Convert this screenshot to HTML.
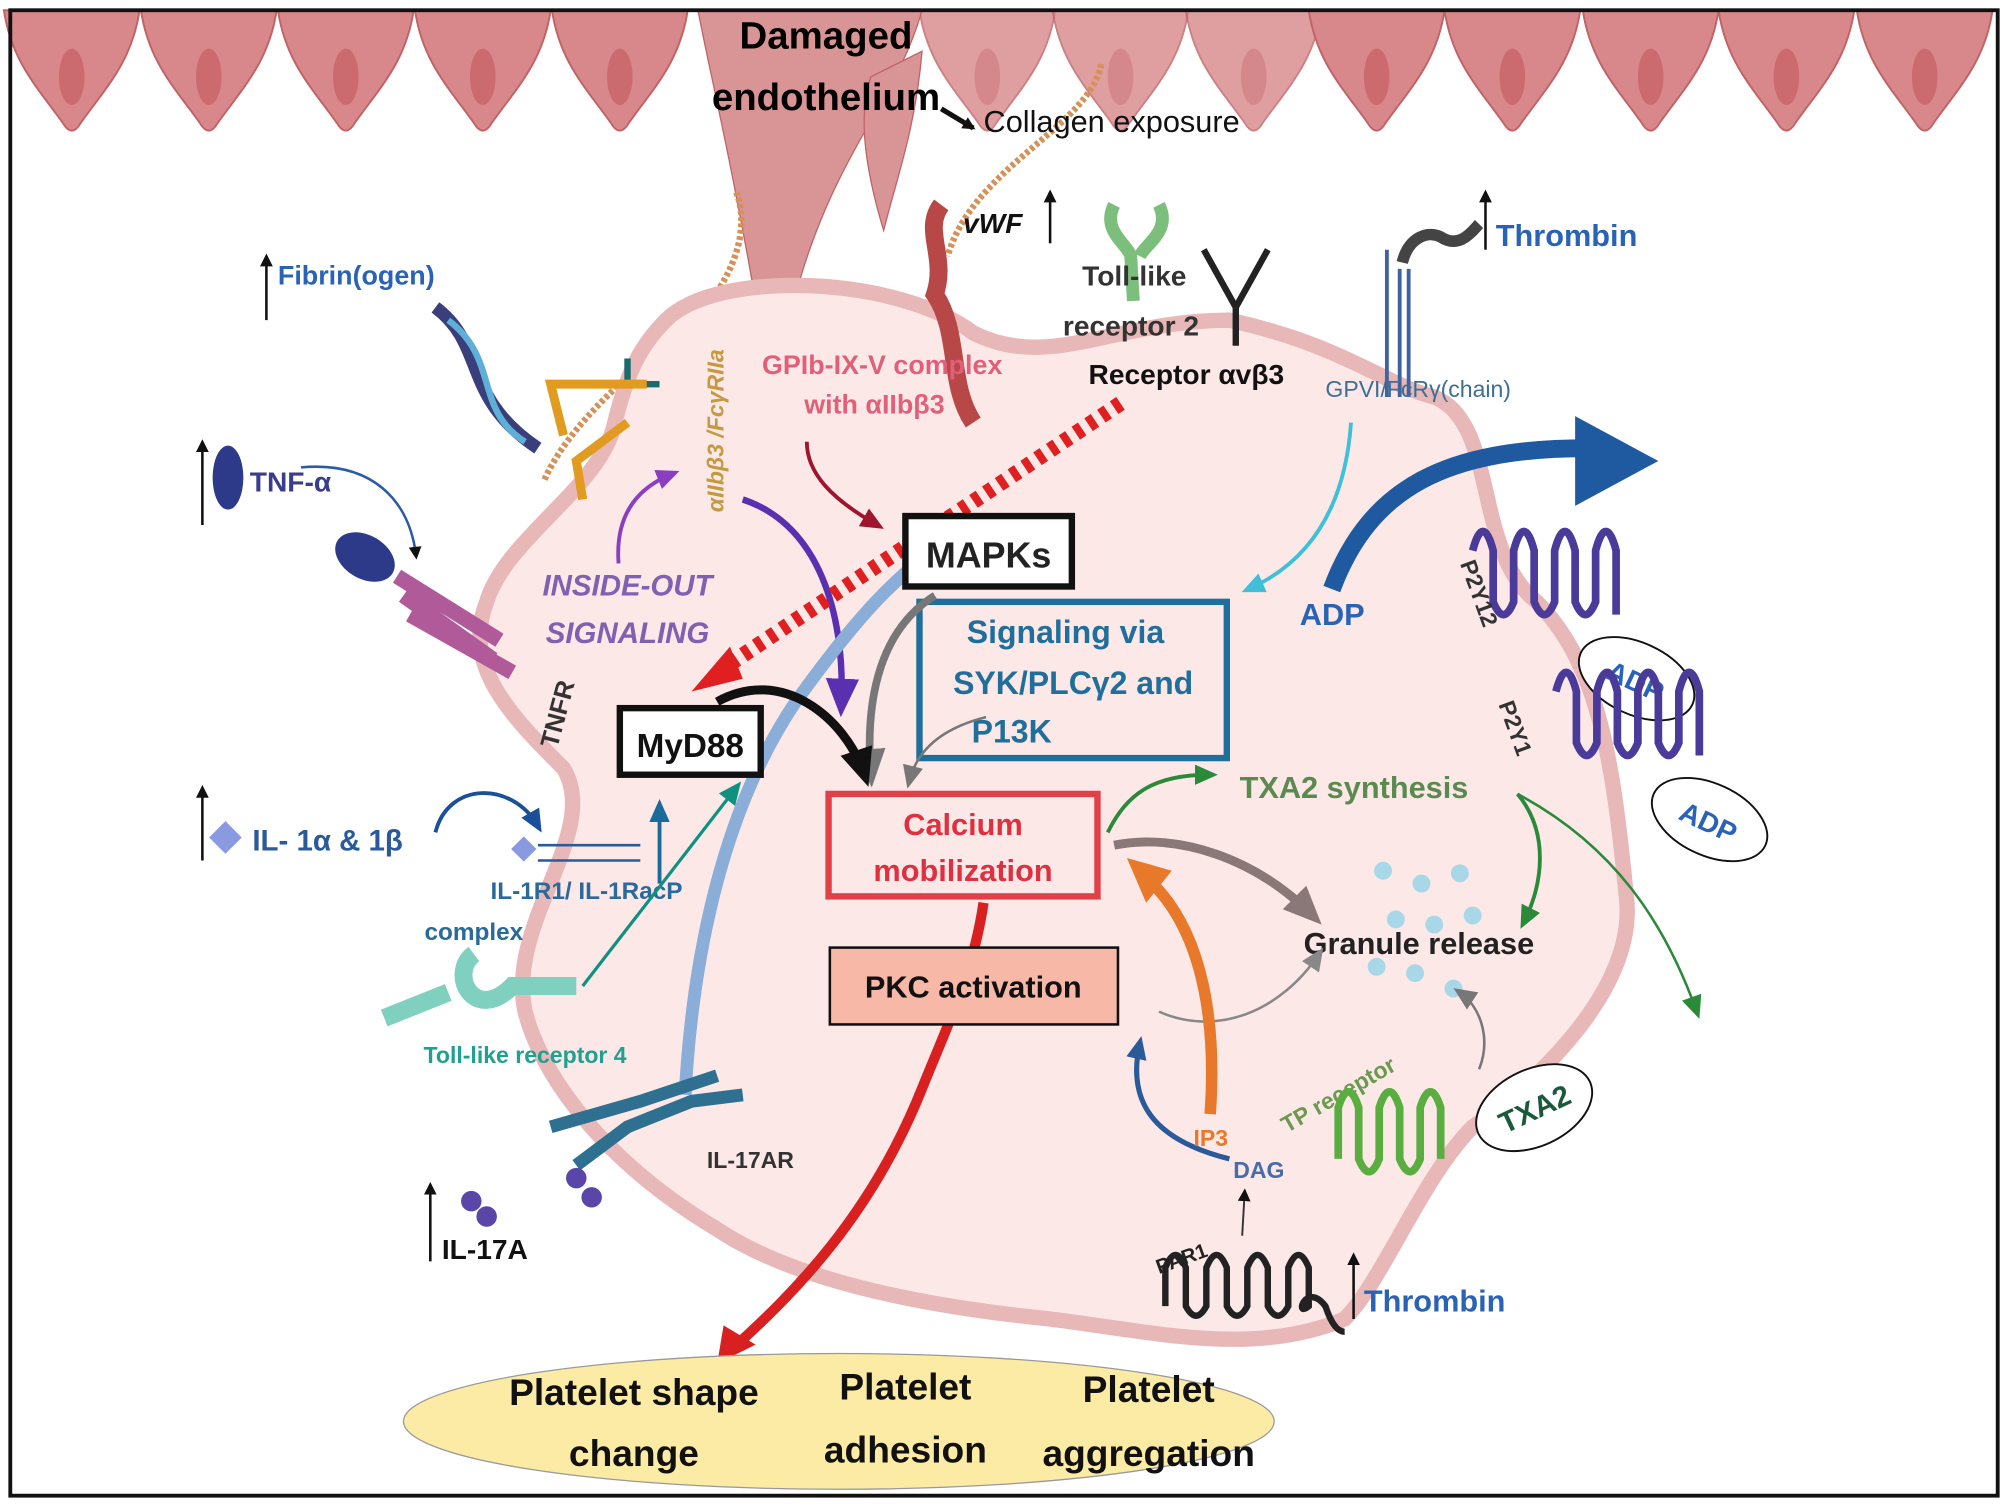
<!DOCTYPE html>
<html><head><meta charset="utf-8"><style>
html,body{margin:0;padding:0;background:#fff}
svg{display:block}
text{font-family:"Liberation Sans",sans-serif;font-weight:bold}
</style></head><body>
<svg width="2008" height="1504" viewBox="0 0 1568 1174.5" xmlns="http://www.w3.org/2000/svg">
<defs>
<marker id="ab" markerWidth="18" markerHeight="18" refX="12" refY="9" orient="auto" markerUnits="userSpaceOnUse"><path d="M0,1 L18,9 L0,17z" fill="context-stroke"/></marker>
<marker id="abL" markerWidth="30" markerHeight="30" refX="20" refY="15" orient="auto" markerUnits="userSpaceOnUse"><path d="M0,2 L30,15 L0,28z" fill="context-stroke"/></marker>
<marker id="abk" markerWidth="10" markerHeight="10" refX="8" refY="5" orient="auto" markerUnits="userSpaceOnUse"><path d="M0,0 L10,5 L0,10z" fill="#111"/></marker>
<g id="cell"><path d="M0,0 L106,0 C100,40 80,60 60,88 Q53,100 46,88 C26,60 6,40 0,0z" fill="#d8888a" stroke="#c06266" stroke-width="1.5"/><ellipse cx="53" cy="52" rx="10" ry="22" fill="#c86468" opacity="0.8"/></g>
</defs>
<rect x="0" y="0" width="1568" height="1175" fill="#fff"/>
<g>
<use href="#cell" x="3" y="8"/><use href="#cell" x="110" y="8"/><use href="#cell" x="217" y="8"/><use href="#cell" x="324" y="8"/><use href="#cell" x="431" y="8"/>
<use href="#cell" x="718" y="8" opacity="0.8"/><use href="#cell" x="822" y="8" opacity="0.8"/><use href="#cell" x="926" y="8" opacity="0.8"/>
<use href="#cell" x="1022" y="8"/><use href="#cell" x="1128" y="8"/><use href="#cell" x="1236" y="8"/><use href="#cell" x="1342" y="8"/><use href="#cell" x="1450" y="8"/>
<path d="M545,8 L720,8 C700,80 650,120 620,235 L590,235 C570,120 555,60 545,8z" fill="#d99496" stroke="#c06266"/>
<path d="M680,60 L720,40 C715,100 700,140 690,180 C675,130 670,90 680,60z" fill="#d99496" stroke="#c06266"/>
</g>
<path d="M575,150 C590,190 560,240 520,270 C480,300 440,340 425,375" stroke="#d4925a" stroke-width="5" fill="none" stroke-dasharray="3 2"/>
<path d="M860,50 C850,100 760,130 740,200" stroke="#d4925a" stroke-width="5" fill="none" stroke-dasharray="3 2"/>
<path d="M520,250 C560,210 700,215 760,260 C820,290 870,250 960,250 C1050,270 1080,300 1120,310 C1170,330 1150,430 1200,470 C1250,520 1260,600 1270,700 C1280,780 1180,860 1150,880 C1110,920 1080,1000 1050,1030 C980,1060 900,1040 820,1030 C720,1020 620,1000 560,960 C460,900 420,830 410,790 C395,720 470,650 440,600 C400,560 360,520 380,470 C395,420 470,380 480,330 C490,290 500,270 520,250z" fill="#fde8e8" stroke="#e8b8b8" stroke-width="12"/>
<text x="645" y="38" font-size="30" text-anchor="middle" fill="#000">Damaged</text>
<text x="645" y="86" font-size="30" text-anchor="middle" fill="#000">endothelium</text>
<path d="M735,85 L760,100" stroke="#111" stroke-width="4" marker-end="url(#abk)"/>
<text x="768" y="103" font-size="24" style="font-weight:normal" fill="#111">Collagen exposure</text>
<path d="M735,160 C720,180 740,200 730,230 C750,260 740,300 760,330" stroke="#b84848" stroke-width="14" fill="none"/>
<text x="752" y="182" font-size="22" font-style="italic" fill="#111">vWF</text>
<line x1="820" y1="190" x2="820" y2="150" stroke="#111" stroke-width="2" marker-end="url(#abk)"/>
<path d="M870,160 C860,180 880,190 883,200 L885,235 M905,160 C915,180 895,190 890,200" stroke="#7cbf7c" stroke-width="10" fill="none"/>
<text x="845" y="223" font-size="22" fill="#333">Toll-like</text>
<text x="830" y="262" font-size="22" fill="#333">receptor 2</text>
<path d="M940,195 L965,240 L990,195 M965,240 L965,270" stroke="#222" stroke-width="5" fill="none"/>
<text x="850" y="300" font-size="22" fill="#111">Receptor αvβ3</text>
<path d="M1083,195 L1083,310 M1093,210 L1093,310 M1100,210 L1100,310" stroke="#3f62a0" stroke-width="3"/>
<path d="M1095,205 C1100,185 1115,180 1125,185 C1140,195 1150,180 1155,175" stroke="#444" stroke-width="9" fill="none"/>
<line x1="1160" y1="195" x2="1160" y2="150" stroke="#111" stroke-width="2" marker-end="url(#abk)"/>
<text x="1168" y="192" font-size="24" fill="#2a63b5">Thrombin</text>
<text x="1035" y="310" font-size="18" style="font-weight:normal" fill="#3d6f94">GPVI/FcRγ(chain)</text>
<line x1="208" y1="250" x2="208" y2="200" stroke="#111" stroke-width="2" marker-end="url(#abk)"/>
<text x="217" y="222" font-size="21" fill="#2a63b5">Fibrin(ogen)</text>
<path d="M340,240 C380,270 360,310 420,350" stroke="#3a3e7a" stroke-width="10" fill="none"/>
<path d="M350,250 C390,280 370,320 410,345" stroke="#5fb0d8" stroke-width="5" fill="none"/>
<path d="M490,280 L490,300 L515,300" stroke="#1b6a6e" stroke-width="5" fill="none"/>
<path d="M505,300 L430,300 L440,340 M490,330 L450,360 L455,390" stroke="#e09b20" stroke-width="7" fill="none"/>
<text x="595" y="292" font-size="21" fill="#e0607a">GPIb-IX-V complex</text>
<text x="628" y="323" font-size="21" fill="#e0607a">with αIIbβ3</text>
<text transform="translate(565,400) rotate(-90)" font-size="18" font-style="italic" fill="#c49a40">αIIbβ3 /FcγRIIa</text>
<line x1="158" y1="410" x2="158" y2="345" stroke="#111" stroke-width="2" marker-end="url(#abk)"/>
<ellipse cx="178" cy="373" rx="12" ry="25" fill="#2d3a8a"/>
<text x="195" y="384" font-size="22" fill="#3a3e8a">TNF-α</text>
<path d="M235,365 C290,360 320,390 325,435" stroke="#2a5aa8" stroke-width="2" fill="none" marker-end="url(#abk)"/>
<ellipse cx="285" cy="435" rx="25" ry="17" fill="#2d3a8a" transform="rotate(30 285 435)"/>
<path d="M310,450 L390,500 M315,465 L385,515 M320,480 L400,525" stroke="#b05a9a" stroke-width="12"/>
<text transform="translate(435,585) rotate(-75)" font-size="20" fill="#333">TNFR</text>
<text x="490" y="465" font-size="23" font-style="italic" text-anchor="middle" fill="#8060b0">INSIDE-OUT</text>
<text x="490" y="502" font-size="23" font-style="italic" text-anchor="middle" fill="#8060b0">SIGNALING</text>
<path d="M483,440 C480,400 500,380 525,370" stroke="#8a3fc0" stroke-width="3" fill="none" marker-end="url(#ab)"/>
<path d="M580,390 C640,410 660,480 657,550" stroke="#5a2fb0" stroke-width="5" fill="none" marker-end="url(#abL)"/>
<path d="M630,345 C630,370 650,390 685,410" stroke="#a0152e" stroke-width="3" fill="none" marker-end="url(#ab)"/>
<line x1="875" y1="315" x2="560" y2="525" stroke="#e02020" stroke-width="12" stroke-dasharray="6 6"/>
<path d="M540,540 L570,505 L580,530z" fill="#e02020"/>
<path d="M535,855 C540,760 560,640 620,550 C670,480 700,450 735,425" stroke="#8aaed8" stroke-width="10" fill="none"/>
<path d="M720,410 L745,425 L725,440z" fill="#8aaed8"/>
<rect x="707" y="403" width="130" height="55" fill="#fff" stroke="#111" stroke-width="5"/>
<text x="772" y="443" font-size="28" text-anchor="middle" fill="#222">MAPKs</text>
<rect x="718" y="470" width="240" height="122" fill="#fde8e8" stroke="#1f6f9a" stroke-width="5"/>
<text x="832" y="502" font-size="25" text-anchor="middle" fill="#1f6f9a">Signaling via</text>
<text x="838" y="542" font-size="25" text-anchor="middle" fill="#1f6f9a">SYK/PLCγ2 and</text>
<text x="790" y="580" font-size="25" text-anchor="middle" fill="#1f6f9a">P13K</text>
<path d="M1055,330 C1050,400 1020,440 975,460" stroke="#40c0d8" stroke-width="3" fill="none" marker-end="url(#ab)"/>
<path d="M730,465 C690,490 675,540 680,605" stroke="#777" stroke-width="6" fill="none" marker-end="url(#abL)"/>
<path d="M770,560 C730,570 715,590 710,610" stroke="#777" stroke-width="2" fill="none" marker-end="url(#ab)"/>
<rect x="484" y="553" width="110" height="52" fill="#fff" stroke="#111" stroke-width="5"/>
<text x="539" y="591" font-size="26" text-anchor="middle" fill="#111">MyD88</text>
<path d="M560,548 C610,520 660,560 675,605" stroke="#111" stroke-width="7" fill="none" marker-end="url(#abL)"/>
<rect x="647" y="620" width="210" height="80" fill="#fde8e8" stroke="#e04048" stroke-width="5"/>
<text x="752" y="652" font-size="24" text-anchor="middle" fill="#e03040">Calcium</text>
<text x="752" y="688" font-size="24" text-anchor="middle" fill="#e03040">mobilization</text>
<path d="M768,705 C760,760 740,800 720,850 C680,950 620,1010 570,1055" stroke="#d82020" stroke-width="8" fill="none"/>
<path d="M560,1065 L565,1035 L590,1050z" fill="#d82020"/>
<rect x="648" y="740" width="225" height="60" fill="#f8b8a8" stroke="#111" stroke-width="2"/>
<text x="760" y="779" font-size="24" text-anchor="middle" fill="#111">PKC activation</text>
<line x1="158" y1="672" x2="158" y2="615" stroke="#111" stroke-width="2" marker-end="url(#abk)"/>
<rect x="167" y="645" width="18" height="18" fill="#8a9ae0" transform="rotate(45 176 654)"/>
<text x="197" y="664" font-size="23" fill="#2a5a9a">IL- 1α &amp; 1β</text>
<path d="M340,650 C350,610 400,610 420,645" stroke="#1a4f9a" stroke-width="3" fill="none" marker-end="url(#ab)"/>
<rect x="402" y="656" width="14" height="14" fill="#8a9ae0" transform="rotate(45 409 663)"/>
<path d="M420,660 L500,660 M420,672 L500,672" stroke="#2a5a9a" stroke-width="2"/>
<line x1="515" y1="690" x2="515" y2="630" stroke="#1a6a9a" stroke-width="3" marker-end="url(#ab)"/>
<text x="458" y="702" font-size="19" text-anchor="middle" fill="#2a6a9a">IL-1R1/ IL-1RacP</text>
<text x="370" y="734" font-size="19" text-anchor="middle" fill="#2a6a9a">complex</text>
<path d="M300,795 L350,775 M370,745 C350,760 370,800 400,770 L450,770" stroke="#80d0c0" stroke-width="14" fill="none"/>
<line x1="455" y1="770" x2="575" y2="615" stroke="#109080" stroke-width="2.5" marker-end="url(#ab)"/>
<text x="410" y="830" font-size="18" text-anchor="middle" fill="#20a090">Toll-like receptor 4</text>
<path d="M430,880 L500,860 L560,840 M450,910 L490,880 L540,860 L580,855" stroke="#2f6f8f" stroke-width="10" fill="none"/>
<circle cx="450" cy="920" r="8" fill="#5a45a8"/><circle cx="462" cy="935" r="8" fill="#5a45a8"/>
<text x="552" y="912" font-size="18" fill="#333">IL-17AR</text>
<line x1="336" y1="985" x2="336" y2="925" stroke="#111" stroke-width="2" marker-end="url(#abk)"/>
<circle cx="368" cy="938" r="8" fill="#5a45a8"/><circle cx="380" cy="950" r="8" fill="#5a45a8"/>
<text x="345" y="983" font-size="22" fill="#111">IL-17A</text>
<path d="M1040,460 C1070,380 1130,350 1240,350" stroke="#1f5aa0" stroke-width="14" fill="none"/>
<path d="M1230,325 L1295,360 L1230,395z" fill="#1f5aa0"/>
<text x="1015" y="488" font-size="24" fill="#2a63b5">ADP</text>
<path d="M1150,430 q8,-30 16,0 v40 q8,20 16,0 v-40 q8,-30 16,0 v40 q8,20 16,0 v-40 q8,-30 16,0 v40 q8,20 16,0 v-40 q8,-30 16,0 v50" stroke="#4a3a9a" stroke-width="6" fill="none"/>
<text transform="translate(1140,440) rotate(70)" font-size="18" fill="#333">P2Y12</text>
<ellipse cx="1278" cy="530" rx="48" ry="28" fill="#fff" stroke="#111" stroke-width="1.5" transform="rotate(25 1278 530)"/>
<text x="1278" y="540" font-size="22" text-anchor="middle" fill="#2a63b5" transform="rotate(25 1278 530)">ADP</text>
<path d="M1215,540 q8,-30 16,0 v40 q8,20 16,0 v-40 q8,-30 16,0 v40 q8,20 16,0 v-40 q8,-30 16,0 v40 q8,20 16,0 v-40 q8,-30 16,0 v50" stroke="#4a3a9a" stroke-width="6" fill="none"/>
<text transform="translate(1170,550) rotate(70)" font-size="18" fill="#333">P2Y1</text>
<ellipse cx="1335" cy="640" rx="48" ry="28" fill="#fff" stroke="#111" stroke-width="1.5" transform="rotate(25 1335 640)"/>
<text x="1335" y="650" font-size="22" text-anchor="middle" fill="#2a63b5" transform="rotate(25 1335 640)">ADP</text>
<text x="968" y="623" font-size="24" fill="#5a8a50">TXA2 synthesis</text>
<path d="M865,650 C880,620 900,605 945,605" stroke="#2a8a3a" stroke-width="3" fill="none" marker-end="url(#ab)"/>
<path d="M1185,620 C1210,650 1205,690 1190,720" stroke="#2a8a3a" stroke-width="3" fill="none" marker-end="url(#ab)"/>
<path d="M1185,620 C1260,660 1300,720 1325,790" stroke="#2a8a3a" stroke-width="2" fill="none" marker-end="url(#ab)"/>
<g fill="#a8d8e8"><circle cx="1080" cy="680" r="7"/><circle cx="1110" cy="690" r="7"/><circle cx="1140" cy="682" r="7"/><circle cx="1090" cy="718" r="7"/><circle cx="1120" cy="722" r="7"/><circle cx="1150" cy="715" r="7"/><circle cx="1075" cy="755" r="7"/><circle cx="1105" cy="760" r="7"/><circle cx="1135" cy="772" r="7"/></g>
<text x="1018" y="745" font-size="24" fill="#222">Granule release</text>
<path d="M870,660 C920,650 980,670 1025,715" stroke="#8a7878" stroke-width="7" fill="none" marker-end="url(#abL)"/>
<path d="M905,790 C950,810 1000,790 1030,745" stroke="#888" stroke-width="2" fill="none" marker-end="url(#ab)"/>
<path d="M1155,835 C1165,810 1155,785 1140,775" stroke="#777" stroke-width="2" fill="none" marker-end="url(#ab)"/>
<path d="M945,870 C950,800 940,730 900,690" stroke="#e8782a" stroke-width="9" fill="none"/>
<path d="M880,670 L915,680 L895,705z" fill="#e8782a"/>
<path d="M960,905 C900,890 880,860 890,815" stroke="#2a5a9a" stroke-width="4" fill="none" marker-end="url(#ab)"/>
<text x="932" y="895" font-size="18" fill="#e8782a">IP3</text>
<text x="963" y="920" font-size="18" fill="#4a6aa8">DAG</text>
<line x1="970" y1="965" x2="972" y2="930" stroke="#333" stroke-width="1.5" marker-end="url(#abk)"/>
<text transform="translate(1005,885) rotate(-30)" font-size="18" fill="#6a9a50">TP receptor</text>
<path d="M1045,905 v-40 q8,-25 16,0 v40 q8,20 16,0 v-40 q8,-25 16,0 v40 q8,20 16,0 v-40 q8,-25 16,0 v40" stroke="#5aae40" stroke-width="6" fill="none"/>
<ellipse cx="1198" cy="865" rx="48" ry="30" fill="#fff" stroke="#111" stroke-width="1.5" transform="rotate(-25 1198 865)"/>
<text x="1198" y="874" font-size="23" text-anchor="middle" fill="#1a5a3a" transform="rotate(-25 1198 865)">TXA2</text>
<text transform="translate(905,995) rotate(-20)" font-size="16" fill="#222">PAR1</text>
<path d="M910,1020 v-30 q8,-20 16,0 v30 q8,15 16,0 v-30 q8,-20 16,0 v30 q8,15 16,0 v-30 q8,-20 16,0 v30 q8,15 16,0 v-30 q8,-20 16,0 v30 C1010,1030 1020,1000 1035,1020 C1040,1035 1045,1040 1050,1040" stroke="#222" stroke-width="5" fill="none"/>
<line x1="1057" y1="1030" x2="1057" y2="980" stroke="#111" stroke-width="2" marker-end="url(#abk)"/>
<text x="1065" y="1024" font-size="24" fill="#2a63b5">Thrombin</text>
<ellipse cx="655" cy="1110" rx="340" ry="53" fill="#fbeba4" stroke="#999" stroke-width="1"/>
<text x="495" y="1097" font-size="29" text-anchor="middle" fill="#111">Platelet shape</text>
<text x="495" y="1145" font-size="29" text-anchor="middle" fill="#111">change</text>
<text x="707" y="1093" font-size="29" text-anchor="middle" fill="#111">Platelet</text>
<text x="707" y="1142" font-size="29" text-anchor="middle" fill="#111">adhesion</text>
<text x="897" y="1095" font-size="29" text-anchor="middle" fill="#111">Platelet</text>
<text x="897" y="1145" font-size="29" text-anchor="middle" fill="#111">aggregation</text>
<rect x="8" y="8" width="1552" height="1160" fill="none" stroke="#111" stroke-width="3"/>
</svg>
</body></html>
